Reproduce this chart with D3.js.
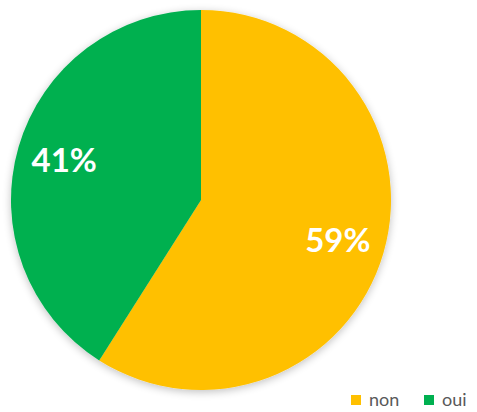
<!DOCTYPE html>
<html><head><meta charset="utf-8">
<script src="https://cdn.jsdelivr.net/npm/d3@7"></script>
<style>html,body{margin:0;padding:0;background:#fff;}svg{display:block;}</style>
</head><body>
<svg id="chart" width="477" height="412"></svg>
<script>
const categories = ["non", "oui"];
const values = [59, 41];
const colors = ["#FFC000", "#00B050"];

const svg = d3.select("#chart");
const cx = 201, cy = 200, r = 190;

const defs = svg.append("defs");
const f = defs.append("filter").attr("id","sh").attr("x","-20%").attr("y","-20%").attr("width","140%").attr("height","140%");
f.append("feGaussianBlur").attr("in","SourceAlpha").attr("stdDeviation",4).attr("result","b");
f.append("feOffset").attr("in","b").attr("dx",0).attr("dy",2).attr("result","o");
f.append("feComponentTransfer").attr("in","o").attr("result","o2").append("feFuncA").attr("type","linear").attr("slope",0.25);
const m = f.append("feMerge"); m.append("feMergeNode").attr("in","o2"); m.append("feMergeNode").attr("in","SourceGraphic");

const pie = d3.pie().sort(null).value(d => d)(values);
const arc = d3.arc().innerRadius(0).outerRadius(r);
const labelArc = d3.arc().innerRadius(r*0.75).outerRadius(r*0.75);

const g = svg.append("g").attr("transform", `translate(${cx},${cy})`);
g.append("g").attr("filter","url(#sh)").selectAll("path").data(pie).join("path")
  .attr("d", arc).attr("fill", (d,i) => colors[i]);

g.selectAll("text").data(pie).join("text")
  .attr("transform", d => `translate(${labelArc.centroid(d)})`)
  .attr("text-anchor","middle").attr("dy","0.36em")
  .attr("font-family","Lato, 'Open Sans', sans-serif").attr("font-weight","bold")
  .attr("font-size",33).attr("fill","#fff")
  .text(d => d.value + "%");

const lg = svg.append("g").attr("font-family","Lato, 'Open Sans', sans-serif").attr("font-size",18).attr("fill","#595959");
const legX = [351, 424];
categories.forEach((c,i) => {
  lg.append("rect").attr("x", legX[i]).attr("y", 395).attr("width", 10).attr("height", 10).attr("fill", colors[i]);
  lg.append("text").attr("x", legX[i] + 18).attr("y", 406).text(c);
});
</script>
</body></html>
